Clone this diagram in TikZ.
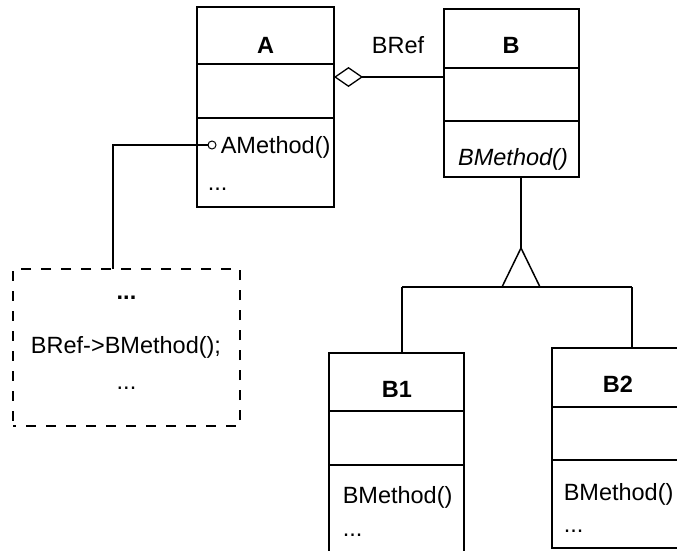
\documentclass[tikz,border=0pt]{standalone}
\usepackage{fontspec}
\setmainfont{Liberation Sans}
\usetikzlibrary{arrows.meta}
\begin{document}
\begin{tikzpicture}[x=1pt,y=-1pt,line width=1.5pt,
  box/.style={draw,inner sep=0pt,outer sep=0pt},
  notebox/.style={box,dash pattern=on 10pt off 10pt,dash phase=7pt,line width=1.1pt},
  txt/.style={font=\fontsize{23.5}{28}\selectfont,inner sep=0pt,anchor=base},
  ttl/.style={txt,font=\fontsize{23.5}{28}\selectfont\bfseries},
  itxt/.style={txt,font=\fontsize{23.5}{28}\selectfont\itshape},
  lollipop/.style={draw,circle,minimum size=8pt,inner sep=0pt,line width=1pt,fill=white}]
\useasboundingbox (0,0) rectangle (677,551);
\clip (0,0) rectangle (677,551);

% class boxes
\node[box,minimum width=137pt,minimum height=200pt] (A) at (265.5,107) {};
\node[box,minimum width=135pt,minimum height=168pt] (B) at (511.5,93) {};
\node[box,minimum width=135pt,minimum height=207pt] (B1) at (396.5,456.5) {};
\node[box,minimum width=148pt,minimum height=200pt] (B2) at (626,448) {};
\node[notebox,minimum width=227pt,minimum height=157pt] (note) at (126.5,347.5) {};

% compartment levels
\coordinate (ya1) at (0,64);  \coordinate (ya2) at (0,118);
\coordinate (yb1) at (0,68);  \coordinate (yb2) at (0,121);
\coordinate (yc1) at (0,411); \coordinate (yc2) at (0,465);
\coordinate (yd1) at (0,407); \coordinate (yd2) at (0,460);
\draw (A.west |- ya1) -- (A.east |- ya1);
\draw (A.west |- ya2) -- (A.east |- ya2);
\draw (B.west |- yb1) -- (B.east |- yb1);
\draw (B.west |- yb2) -- (B.east |- yb2);
\draw (B1.west |- yc1) -- (B1.east |- yc1);
\draw (B1.west |- yc2) -- (B1.east |- yc2);
\draw (B2.west |- yd1) -- (B2.east |- yd1);
\draw (B2.west |- yd2) -- (B2.east |- yd2);

% aggregation
\coordinate (yagg) at (0,77);
\draw[-{Diamond[open,length=29pt,width=20pt,line width=1.3pt]}] (B.west |- yagg) -- (A.east |- yagg);

% lollipop to note
\node[lollipop] (ac) at (212,145) {};
\coordinate (bend) at (113,145);
\draw (ac.west) -- (bend) -- (bend |- note.north);

% generalization
\coordinate (apex) at (521,248);
\coordinate (tl) at (502,287);
\coordinate (tr) at (540,287);
\coordinate (bl) at (402,287);
\coordinate (br) at (632,287);
\draw (apex |- B.south) -- (apex);
\draw (apex) -- (tl) -- (tr) -- cycle;
\draw (bl) -- (br);
\draw (bl) -- (bl |- B1.north);
\draw (br) -- (br |- B2.north);

% texts
\node[ttl] (Alab) at (265.5,53) {A};
\node[ttl] (Blab) at (511,53) {B};
\node[txt] (bref) at (398,53) {BRef};
\node[txt,anchor=base west] (am) at (220,153) {AMethod()};
\node[txt,anchor=base west] (adots) at (207,190) {...};
\node[itxt] (bm) at (513,165) {BMethod()};
\node[ttl] (ndots) at (126.5,299) {...};
\node[txt] (call) at (126,353) {BRef->BMethod();};
\node[txt] (ndots2) at (126.5,389) {...};
\node[ttl] (B1lab) at (397,397) {B1};
\node[ttl] (B2lab) at (618,392) {B2};
\node[txt,anchor=base west] (b1m) at (342,503) {BMethod()};
\node[txt,anchor=base west] (b1d) at (342,536) {...};
\node[txt,anchor=base west] (b2m) at (563,500) {BMethod()};
\node[txt,anchor=base west] (b2d) at (563,532) {...};
\end{tikzpicture}
\end{document}
